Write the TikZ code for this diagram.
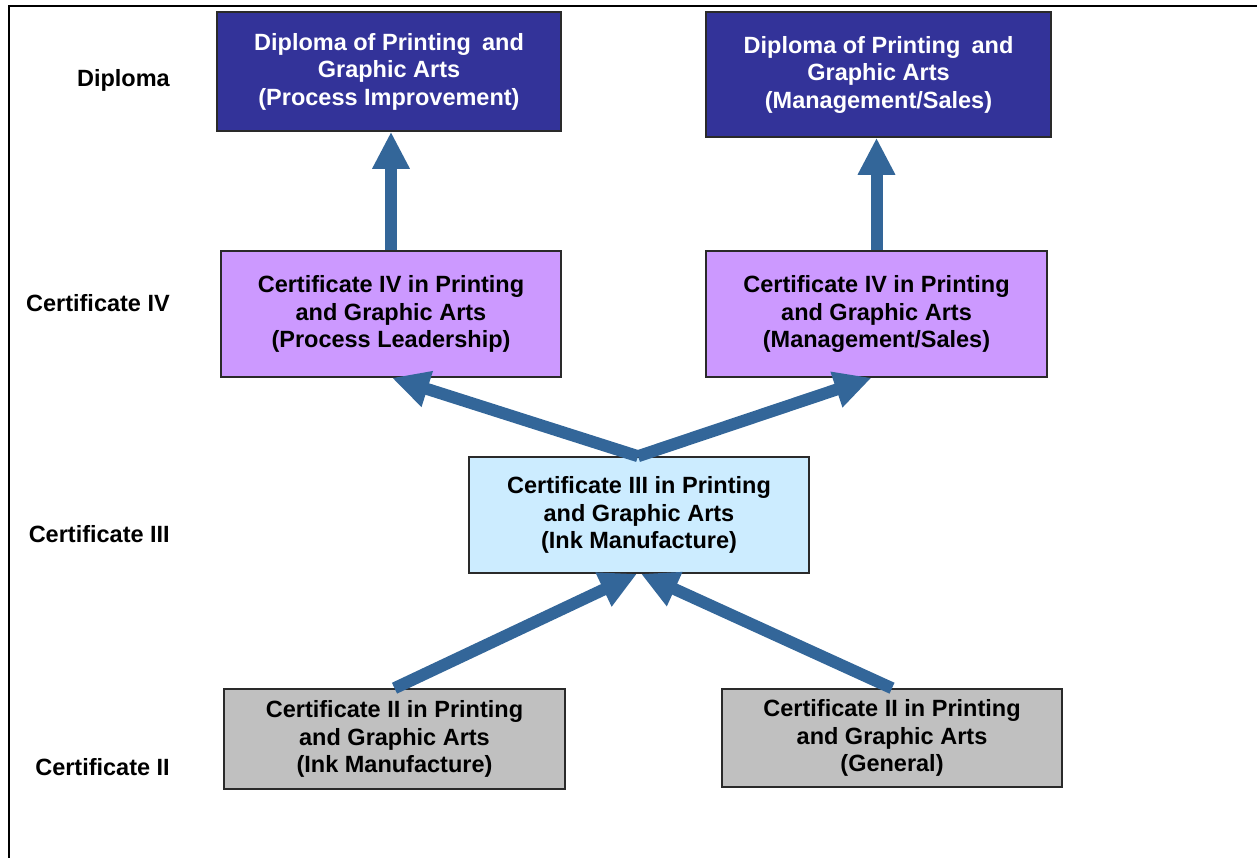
\documentclass[tikz,border=0pt]{standalone}
\usepackage{fontspec}
\setmainfont{Liberation Sans}
\usetikzlibrary{arrows.meta}

\definecolor{diplomafill}{HTML}{333399}
\definecolor{certfourfill}{HTML}{CC99FF}
\definecolor{certthreefill}{HTML}{CCECFF}
\definecolor{certtwofill}{HTML}{C0C0C0}
\definecolor{pathblue}{HTML}{336699}
\definecolor{boxline}{HTML}{2A2A2A}

\tikzset{
  qualbox/.style={draw=boxline, line width=1.6pt, align=center, inner sep=0pt,
    font=\fontsize{23.5}{27.5}\selectfont\bfseries},
  dipbox/.style={qualbox, fill=diplomafill, text=white},
  cfourbox/.style={qualbox, fill=certfourfill},
  cthreebox/.style={qualbox, fill=certthreefill},
  ctwobox/.style={qualbox, fill=certtwofill},
  levellabel/.style={anchor=east, inner sep=0pt,
    font=\fontsize{23.5}{27.5}\selectfont\bfseries},
  pathway/.style={draw=pathblue, line width=12pt,
    -{Triangle[width=35pt,length=37pt]}}
}

\begin{document}
\begin{tikzpicture}[x=1pt,y=-1pt]
\useasboundingbox (0,0) rectangle (1257,858);

% outer frame (left and top edges)
\coordinate (frameBL) at (9,858);
\coordinate (frameTL) at (9,6);
\coordinate (frameTR) at (1257,6);
\draw[line width=2.2pt] (frameBL) -- (frameTL) -- (frameTR);

% level labels
\node[levellabel] (lblDip) at (170,80) {Diploma};
\node[levellabel] (lblIV)  at (170,303) {Certificate IV};
\node[levellabel] (lblIII) at (170,534) {Certificate III};
\node[levellabel] (lblII)  at (170,767) {Certificate II};

% qualification boxes
\node[dipbox, minimum width=344pt, minimum height=119pt] (d1) at (389,71.5)
  {Diploma of Printing\hspace{0.2em} and\\Graphic Arts\\(Process Improvement)};
\node[dipbox, minimum width=345pt, minimum height=125pt] (d2) at (878.5,74.5)
  {Diploma of Printing\hspace{0.2em} and\\Graphic Arts\\(Management/Sales)};

\node[cfourbox, minimum width=340pt, minimum height=126pt] (c4l) at (391,314)
  {Certificate IV in Printing\\and Graphic Arts\\(Process Leadership)};
\node[cfourbox, minimum width=341pt, minimum height=126pt] (c4r) at (876.5,314)
  {Certificate IV in Printing\\and Graphic Arts\\(Management/Sales)};

\node[cthreebox, minimum width=340pt, minimum height=116pt] (c3) at (639,515)
  {Certificate III in Printing\\and Graphic Arts\\(Ink Manufacture)};

\node[ctwobox, minimum width=341pt, minimum height=100pt] (c2l) at (394.5,739)
  {Certificate II in Printing\\and Graphic Arts\\(Ink Manufacture)};
\node[ctwobox, minimum width=340pt, minimum height=98pt] (c2r) at (892,738)
  {Certificate II in Printing\\and Graphic Arts\\(General)};

% progression arrows
\draw[pathway] (c4l.north) -- (c4l.north |- d1.south);
\draw[pathway] (c4r.north) -- (c4r.north |- d2.south);
\draw[pathway] ([xshift=-1pt]c3.north) -- ([xshift=1pt]c4l.south);
\draw[pathway] ([xshift=-1pt]c3.north) -- ([xshift=-5pt]c4r.south);
\draw[pathway] (c2l.north) -- ([xshift=-2pt]c3.south);
\draw[pathway] (c2r.north) -- ([xshift=2pt]c3.south);
\end{tikzpicture}
\end{document}
